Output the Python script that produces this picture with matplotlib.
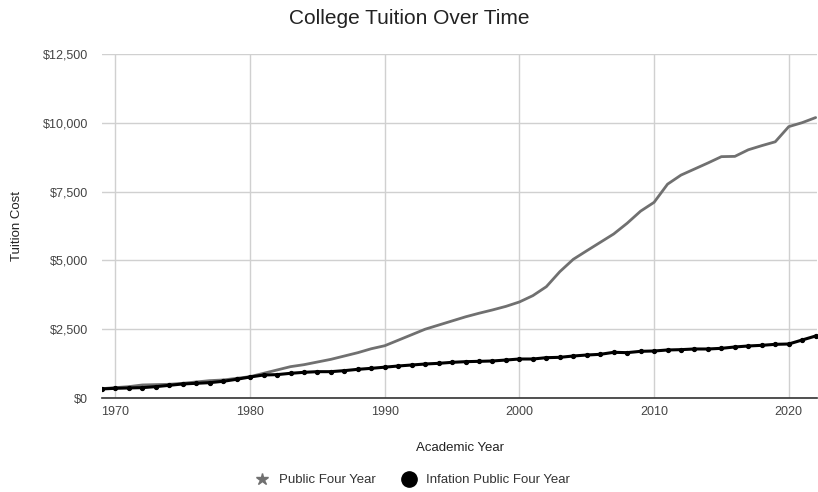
import matplotlib
matplotlib.use("Agg")
import matplotlib.pyplot as plt
from matplotlib.lines import Line2D
from matplotlib.ticker import FuncFormatter

plt.rcParams['font.family'] = ['Liberation Sans', 'DejaVu Sans']

years = list(range(1969, 2023))
public_four_year = [
    340, 377, 413, 474, 486, 498, 534, 583, 631, 655,
    715, 776, 897, 1018, 1139, 1211, 1308, 1405, 1526, 1647,
    1790, 1900, 2100, 2300, 2500, 2650, 2800, 2950, 3080, 3200,
    3330, 3490, 3720, 4045, 4590, 5040, 5350, 5655, 5960, 6350,
    6790, 7110, 7770, 8100, 8320, 8540, 8770, 8780, 9020, 9170,
    9310, 9860, 10005, 10190,
]
inflation_public_four_year = [
    330, 352, 365, 377, 413, 461, 510, 534, 558, 607,
    680, 763, 836, 849, 897, 933, 957, 957, 994, 1042,
    1078, 1120, 1163, 1199, 1235, 1260, 1296, 1320, 1332, 1345,
    1380, 1417, 1417, 1465, 1478, 1526, 1562, 1587, 1660, 1648,
    1696, 1708, 1745, 1757, 1781, 1781, 1805, 1854, 1890, 1914,
    1950, 1962, 2108, 2253,
]
y_ticks = [0, 2500, 5000, 7500, 10000, 12500]
x_ticks = [1970, 1980, 1990, 2000, 2010, 2020]

fig = plt.figure(figsize=(8.18, 4.92), dpi=100)
ax = fig.add_axes([102/818, 1-398/492, (817-102)/818, (398-54)/492])

ax.plot(years, public_four_year, color='#707070', lw=2.0, zorder=3,
        solid_joinstyle='round', solid_capstyle='round')
ax.plot(years, inflation_public_four_year, color='black', lw=2.2, marker='o', ms=2.8, zorder=4)

ax.set_xlim(1969, 2022.1)
ax.set_ylim(0, 12500)
ax.set_yticks(y_ticks)
ax.set_xticks(x_ticks)
ax.yaxis.set_major_formatter(FuncFormatter(lambda v, p: f"${v:,.0f}"))
ax.grid(True, color='#d0d0d0', lw=1)
ax.set_axisbelow(True)
for s in ['left', 'right', 'top']:
    ax.spines[s].set_visible(False)
ax.spines['bottom'].set_color('#333333')
ax.spines['bottom'].set_linewidth(1.2)
ax.tick_params(axis='both', length=0, labelsize=9, colors='#444444', pad=6)
ax.tick_params(axis='y', pad=10)

ax.set_ylabel('Tuition Cost', fontsize=9.5, color='#222222', labelpad=14)
ax.set_xlabel('Academic Year', fontsize=9.5, color='#222222', labelpad=17)
fig.text(0.5, 1-18/492, 'College Tuition Over Time', ha='center', va='center', fontsize=15, color='#222222')

handles = [
    Line2D([], [], ls='none', marker='*', color='#707070', ms=9),
    Line2D([], [], ls='none', marker='o', color='black', ms=11),
]
fig.legend(handles, ['Public Four Year', 'Infation Public Four Year'], loc='center',
           bbox_to_anchor=(0.5, 1-480/492), ncol=2, frameon=False, fontsize=9.5,
           handletextpad=0.3, columnspacing=1.5, labelcolor='#333333')

fig.savefig('out.png', dpi=100)
